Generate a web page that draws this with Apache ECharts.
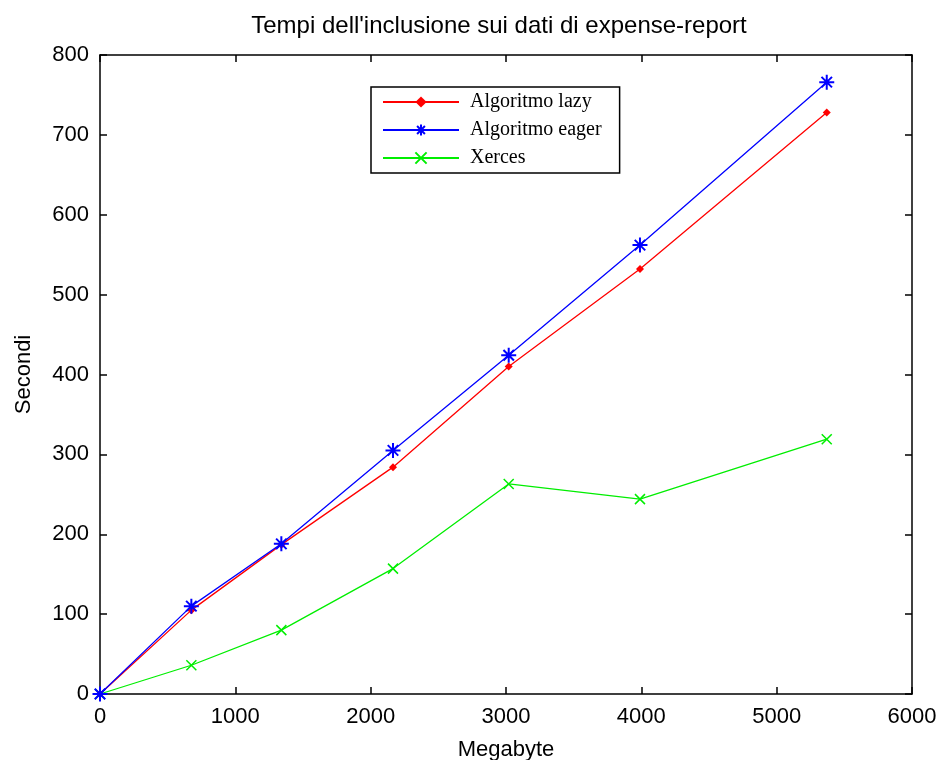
<!DOCTYPE html>
<html>
<head>
<meta charset="utf-8">
<script src="https://cdn.jsdelivr.net/npm/echarts@6/dist/echarts.min.js"></script>
<style>
  html, body { margin: 0; padding: 0; background: #fff; }
  #chart { width: 938px; height: 760px; }
</style>
</head>
<body>
<div id="chart"></div>
<script>
// dati
var megabyte = [0, 675, 1340, 2165, 3020, 3990, 5370];
var lazy = [0, 105, 187, 284, 410, 532, 728];
var eager = [0, 110, 188, 305, 424, 562, 766];
var xerces = [0, 36, 80, 157, 263, 244, 319];

var xTicks = [0, 1000, 2000, 3000, 4000, 5000, 6000];
var yTicks = [0, 100, 200, 300, 400, 500, 600, 700, 800];

function pairs(ys) {
    return megabyte.map(function (x, i) { return [x, ys[i]]; });
}

var starPath = 'path://M10,0 L10,20 M0,10 L20,10 M3,3 L17,17 M3,17 L17,3';
var crossPath = 'path://M2,2 L18,18 M2,18 L18,2';

var chart = echarts.init(document.getElementById('chart'));

var tickFont = { fontFamily: 'Liberation Sans, Arial, sans-serif', fontSize: 22, color: '#000' };
// tacche interne su tutti e quattro i lati, come in matlab
var tickStyle = { show: true, inside: true, length: 7, lineStyle: { color: '#000', width: 1.5 } };
var lineStyle = { show: true, onZero: false, lineStyle: { color: '#000', width: 1.5 } };

chart.setOption({
    animation: false,
    backgroundColor: '#fff',
    title: {
        text: "Tempi dell'inclusione sui dati di expense-report",
        left: 494,
        top: 9,
        textAlign: 'center',
        textStyle: { fontFamily: 'Liberation Sans, Arial, sans-serif', fontSize: 24, fontWeight: 'normal', color: '#000' }
    },
    grid: { left: 100, right: 26, top: 55, bottom: 66, outerBoundsMode: 'none' },
    legend: {
        orient: 'vertical',
        left: 371,
        top: 87,
        padding: [5, 18, 5, 11],
        itemWidth: 76,
        itemHeight: 14,
        itemGap: 8,
        backgroundColor: '#fff',
        borderColor: '#000',
        borderWidth: 1.5,
        textStyle: { fontFamily: 'Liberation Serif, Times New Roman, serif', fontSize: 20, color: '#000', padding: [0, 0, 0, 6] },
        data: ['Algoritmo lazy', 'Algoritmo eager', 'Xerces']
    },
    xAxis: [{
        type: 'value',
        min: 0, max: 6000, interval: 1000,
        name: 'Megabyte',
        nameLocation: 'middle',
        nameGap: 45,
        nameTextStyle: tickFont,
        axisLine: lineStyle,
        axisTick: tickStyle,
        axisLabel: Object.assign({ margin: 12, formatter: function (v) { return xTicks.indexOf(v) >= 0 ? String(v) : ''; } }, tickFont),
        splitLine: { show: false }
    }, {
        type: 'value',
        position: 'top',
        min: 0, max: 6000, interval: 1000,
        axisLine: lineStyle,
        axisTick: tickStyle,
        axisLabel: { show: false },
        splitLine: { show: false }
    }],
    yAxis: [{
        type: 'value',
        min: 0, max: 800, interval: 100,
        name: 'Secondi',
        nameLocation: 'middle',
        nameGap: 65,
        nameTextStyle: tickFont,
        axisLine: lineStyle,
        axisTick: tickStyle,
        axisLabel: Object.assign({ margin: 11, formatter: function (v) { return yTicks.indexOf(v) >= 0 ? String(v) : ''; } }, tickFont),
        splitLine: { show: false }
    }, {
        type: 'value',
        position: 'right',
        min: 0, max: 800, interval: 100,
        axisLine: lineStyle,
        axisTick: tickStyle,
        axisLabel: { show: false },
        splitLine: { show: false }
    }],
    series: [{
        name: 'Algoritmo lazy',
        type: 'line',
        data: pairs(lazy),
        symbol: 'diamond',
        symbolSize: 8,
        itemStyle: { color: '#ff0000' },
        lineStyle: { color: '#ff0000', width: 1.3 },
        z: 3
    }, {
        name: 'Algoritmo eager',
        type: 'line',
        data: pairs(eager),
        symbol: starPath,
        symbolSize: 15,
        itemStyle: { color: 'rgba(0,0,0,0)', borderColor: '#0000ff', borderWidth: 2 },
        lineStyle: { color: '#0000ff', width: 1.3 },
        z: 4
    }, {
        name: 'Xerces',
        type: 'line',
        data: pairs(xerces),
        symbol: crossPath,
        symbolSize: 10,
        itemStyle: { color: 'rgba(0,0,0,0)', borderColor: '#00ee00', borderWidth: 1.5 },
        lineStyle: { color: '#00ee00', width: 1.3 },
        z: 2
    }]
});
</script>
</body>
</html>
